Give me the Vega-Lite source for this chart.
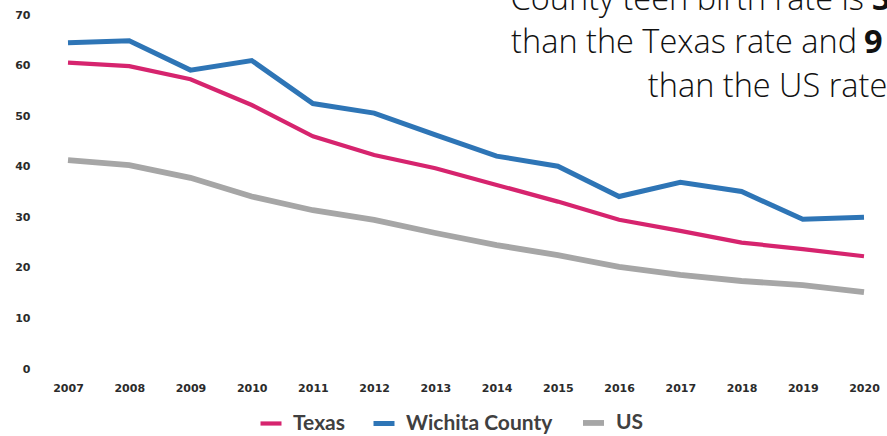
{
  "$schema": "https://vega.github.io/schema/vega-lite/v6.json",
  "width": 796,
  "height": 354,
  "autosize": "none",
  "padding": {"left": 68, "top": 15, "right": 23, "bottom": 67},
  "background": "white",
  "config": {"view": {"stroke": null}},
  "datasets": {
    "rates": [
      {"year": 2007, "series": "Texas", "rate": 60.6},
      {"year": 2008, "series": "Texas", "rate": 59.9},
      {"year": 2009, "series": "Texas", "rate": 57.3},
      {"year": 2010, "series": "Texas", "rate": 52.2},
      {"year": 2011, "series": "Texas", "rate": 46.0},
      {"year": 2012, "series": "Texas", "rate": 42.3},
      {"year": 2013, "series": "Texas", "rate": 39.7},
      {"year": 2014, "series": "Texas", "rate": 36.4},
      {"year": 2015, "series": "Texas", "rate": 33.1},
      {"year": 2016, "series": "Texas", "rate": 29.5},
      {"year": 2017, "series": "Texas", "rate": 27.3},
      {"year": 2018, "series": "Texas", "rate": 25.0},
      {"year": 2019, "series": "Texas", "rate": 23.7},
      {"year": 2020, "series": "Texas", "rate": 22.3},
      {"year": 2007, "series": "Wichita County", "rate": 64.5},
      {"year": 2008, "series": "Wichita County", "rate": 64.9},
      {"year": 2009, "series": "Wichita County", "rate": 59.1},
      {"year": 2010, "series": "Wichita County", "rate": 61.0},
      {"year": 2011, "series": "Wichita County", "rate": 52.5},
      {"year": 2012, "series": "Wichita County", "rate": 50.6},
      {"year": 2013, "series": "Wichita County", "rate": 46.3},
      {"year": 2014, "series": "Wichita County", "rate": 42.1},
      {"year": 2015, "series": "Wichita County", "rate": 40.1},
      {"year": 2016, "series": "Wichita County", "rate": 34.1},
      {"year": 2017, "series": "Wichita County", "rate": 36.9},
      {"year": 2018, "series": "Wichita County", "rate": 35.1},
      {"year": 2019, "series": "Wichita County", "rate": 29.6},
      {"year": 2020, "series": "Wichita County", "rate": 30.0},
      {"year": 2007, "series": "US", "rate": 41.3},
      {"year": 2008, "series": "US", "rate": 40.3},
      {"year": 2009, "series": "US", "rate": 37.8},
      {"year": 2010, "series": "US", "rate": 34.1},
      {"year": 2011, "series": "US", "rate": 31.4},
      {"year": 2012, "series": "US", "rate": 29.5},
      {"year": 2013, "series": "US", "rate": 26.9},
      {"year": 2014, "series": "US", "rate": 24.5},
      {"year": 2015, "series": "US", "rate": 22.5},
      {"year": 2016, "series": "US", "rate": 20.2},
      {"year": 2017, "series": "US", "rate": 18.6},
      {"year": 2018, "series": "US", "rate": 17.4},
      {"year": 2019, "series": "US", "rate": 16.6},
      {"year": 2020, "series": "US", "rate": 15.2}
    ],
    "note": [
      {"text": "County teen birth rate is", "x": 2020.0, "y": 71.0},
      {"text": "than the Texas rate and", "x": 2019.886, "y": 62.4}
    ],
    "note3": [
      {"text": "than the US rate", "x": 2016.47, "y": 53.85}
    ],
    "bold": [
      {"text": "3", "x": 2020.13, "y": 71.0},
      {"text": "9", "x": 2020.0, "y": 62.4}
    ]
  },
  "layer": [
    {
      "data": {"name": "rates"},
      "mark": {"type": "line", "strokeCap": "butt"},
      "encoding": {
        "x": {
          "field": "year", "type": "quantitative",
          "scale": {"domain": [2007, 2020], "nice": false, "zero": false},
          "axis": {
            "title": null, "values": [2007,2008,2009,2010,2011,2012,2013,2014,2015,2016,2017,2018,2019,2020],
            "format": "d", "grid": false, "domain": false, "ticks": false,
            "labelPadding": 13, "labelFont": "DejaVu Sans", "labelFontWeight": "bold",
            "labelFontSize": 11, "labelColor": "#2b2b2b", "labelFlush": false
          }
        },
        "y": {
          "field": "rate", "type": "quantitative",
          "scale": {"domain": [0, 70], "nice": false},
          "axis": {
            "title": null, "values": [0,10,20,30,40,50,60,70],
            "grid": false, "domain": false, "ticks": false,
            "labelPadding": 38, "labelFont": "DejaVu Sans", "labelFontWeight": "bold",
            "labelFontSize": 11, "labelColor": "#2b2b2b"
          }
        },
        "color": {
          "field": "series", "type": "nominal",
          "scale": {"domain": ["Texas", "Wichita County", "US"], "range": ["#d6246e", "#2e75b6", "#a6a6a6"]},
          "legend": {
            "title": null, "orient": "none", "direction": "horizontal",
            "legendX": 190, "legendY": 394,
            "symbolType": "stroke", "symbolSize": 441, "symbolStrokeWidth": 5.5,
            "labelFont": "Lato", "labelFontWeight": "bold", "labelFontSize": 21,
            "labelColor": "#404040", "labelOffset": 9, "columnPadding": 18, "labelLimit": 300
          }
        },
        "strokeWidth": {
          "field": "series", "type": "nominal",
          "scale": {"domain": ["Texas", "Wichita County", "US"], "range": [4.2, 5.8, 5.5]},
          "legend": null
        }
      }
    },
    {
      "data": {"name": "note"},
      "mark": {"type": "text", "align": "right", "baseline": "alphabetic", "font": "Open Sans", "fontWeight": 300, "fontSize": 32.5, "color": "#111111"},
      "encoding": {
        "x": {"field": "x", "type": "quantitative"},
        "y": {"field": "y", "type": "quantitative"},
        "text": {"field": "text"}
      }
    },
    {
      "data": {"name": "note3"},
      "mark": {"type": "text", "align": "left", "baseline": "alphabetic", "font": "Open Sans", "fontWeight": 300, "fontSize": 32.5, "color": "#111111"},
      "encoding": {
        "x": {"field": "x", "type": "quantitative"},
        "y": {"field": "y", "type": "quantitative"},
        "text": {"field": "text"}
      }
    },
    {
      "data": {"name": "bold"},
      "mark": {"type": "text", "align": "left", "baseline": "alphabetic", "font": "Open Sans", "fontWeight": "bold", "fontSize": 32.5, "color": "#111111"},
      "encoding": {
        "x": {"field": "x", "type": "quantitative"},
        "y": {"field": "y", "type": "quantitative"},
        "text": {"field": "text"}
      }
    }
  ]
}
